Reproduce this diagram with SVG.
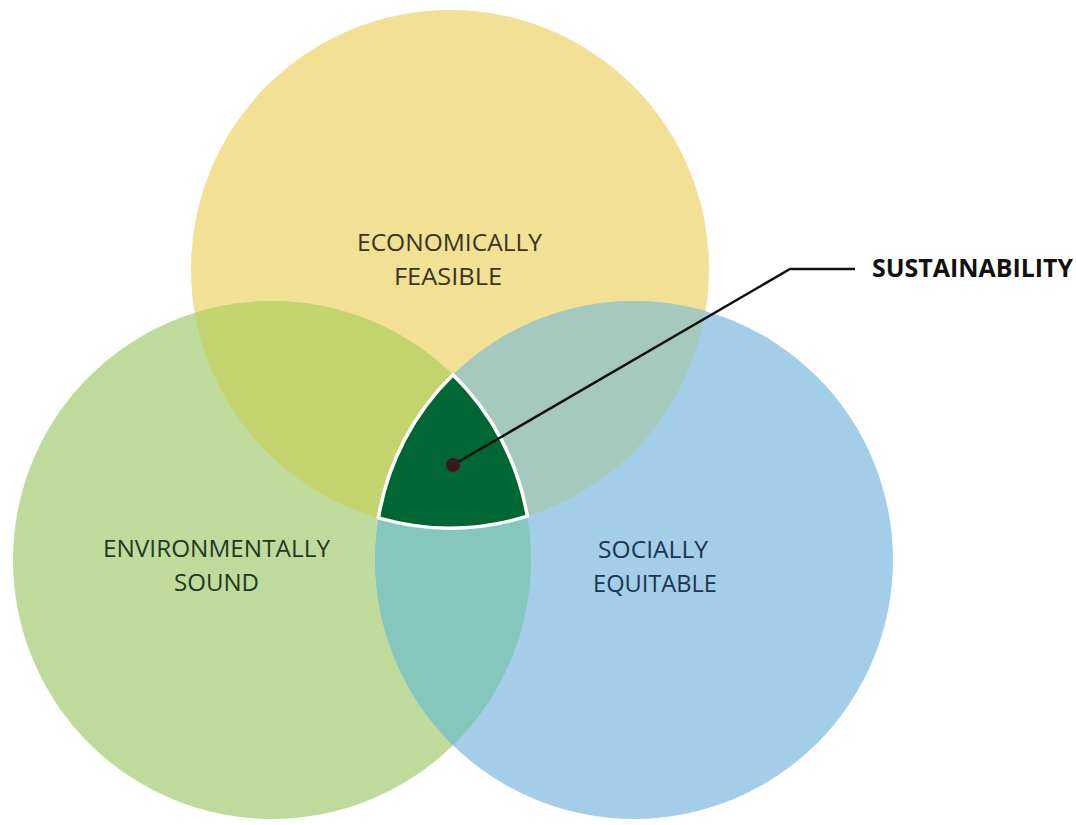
<svg xmlns="http://www.w3.org/2000/svg" width="1076" height="825" viewBox="0 0 1076 825">
<style>
.lbl{font-family:"Open Sans","Liberation Sans",sans-serif;font-size:24px;text-anchor:middle}
.key{font-family:"Open Sans","Liberation Sans",sans-serif;font-size:25px;font-weight:bold;fill:#111}
.lead{fill:none;stroke:#111;stroke-width:2.5}
</style>
<defs>
<clipPath id="clipY"><circle cx="450" cy="269" r="259"/></clipPath>
<clipPath id="clipB"><circle cx="634" cy="560" r="259"/></clipPath>
</defs>
<rect width="1076" height="825" fill="#ffffff"/>
<g id="economically-feasible">
<circle cx="450" cy="269" r="259" fill="#f2e095"/>
</g>
<g id="environmentally-sound">
<circle cx="272" cy="560" r="259" fill="#bedb9c"/>
</g>
<g id="socially-equitable">
<circle cx="634" cy="560" r="259" fill="#a4cee8"/>
</g>
<g id="overlaps">
<circle cx="272" cy="560" r="259" fill="#c3d46e" clip-path="url(#clipY)"/>
<circle cx="634" cy="560" r="259" fill="#a6c9be" clip-path="url(#clipY)"/>
<circle cx="272" cy="560" r="259" fill="#85c6bd" clip-path="url(#clipB)"/>
</g>
<g id="sustainability-core">
<path d="M453,374.7 A259,259 0 0 1 527.3,516.2 A259,259 0 0 1 378.4,517.9 A259,259 0 0 1 453,374.7 Z" fill="#006633" stroke="#ffffff" stroke-width="3.5" stroke-linejoin="round"/>
</g>
<g id="labels">
<text class="lbl" x="449.5" y="251" fill="#3a3422" textLength="185" lengthAdjust="spacingAndGlyphs">ECONOMICALLY</text>
<text class="lbl" x="448" y="285" fill="#3a3422" textLength="108" lengthAdjust="spacingAndGlyphs">FEASIBLE</text>
<text class="lbl" x="216.5" y="557" fill="#1f3a22" textLength="227" lengthAdjust="spacingAndGlyphs">ENVIRONMENTALLY</text>
<text class="lbl" x="216.5" y="591" fill="#1f3a22" textLength="85" lengthAdjust="spacingAndGlyphs">SOUND</text>
<text class="lbl" x="653" y="558" fill="#1d3550" textLength="110" lengthAdjust="spacingAndGlyphs">SOCIALLY</text>
<text class="lbl" x="655" y="592" fill="#1d3550" textLength="124" lengthAdjust="spacingAndGlyphs">EQUITABLE</text>
</g>
<g id="connectors">
<polyline class="lead" points="453,465 790,269 855,269"/>
<circle cx="453" cy="465" r="7" fill="#3a1a1e"/>
</g>
<g id="sustainability-label">
<text class="key" x="872" y="277" textLength="201" lengthAdjust="spacingAndGlyphs">SUSTAINABILITY</text>
</g>
</svg>
